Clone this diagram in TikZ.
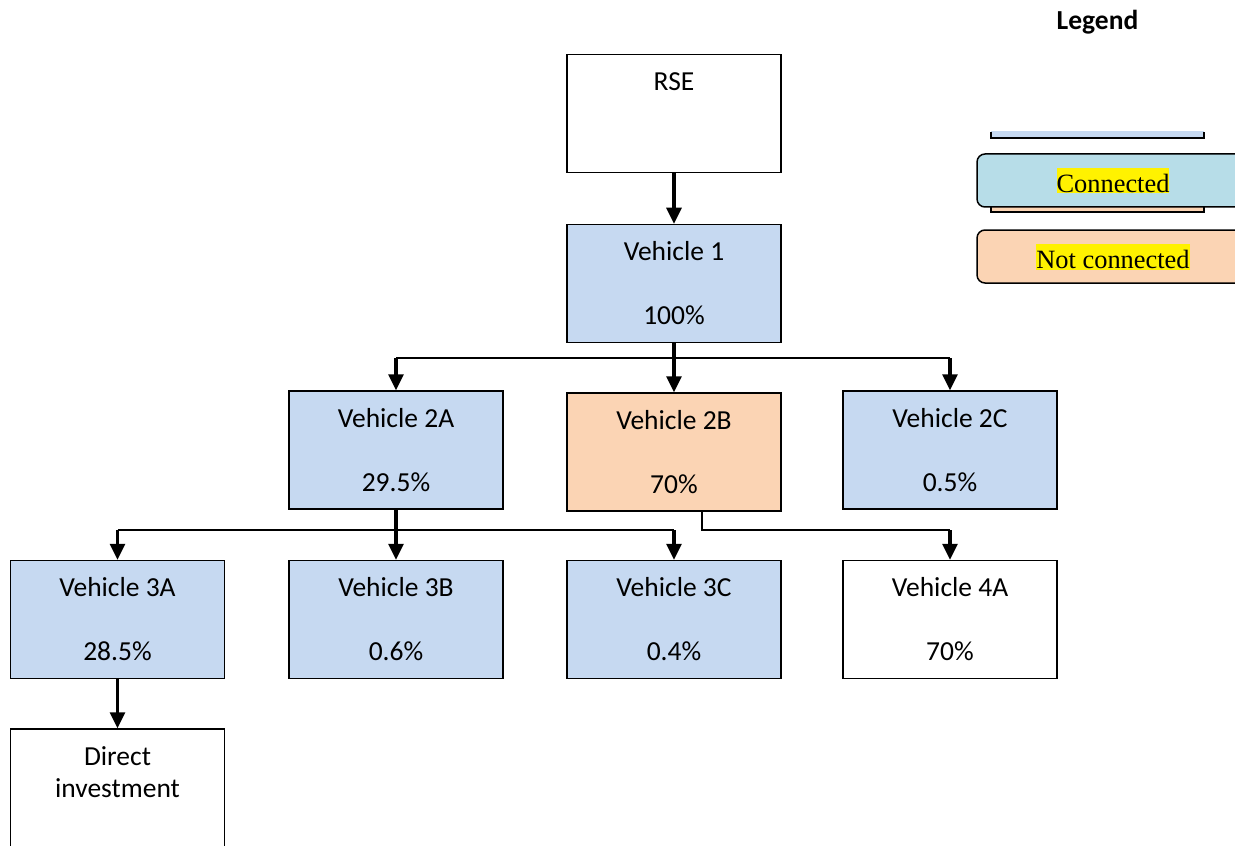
\documentclass[tikz,border=0pt]{standalone}
\usepackage{fontspec}
\setmainfont{Carlito}
\newfontfamily\legendfont{Liberation Serif}
\usetikzlibrary{calc}
\usetikzlibrary{arrows.meta}
\tikzset{>={Triangle[width=7.5pt,length=8pt]}}
\definecolor{vblue}{HTML}{C6D9F1}
\definecolor{vpeach}{HTML}{FBD4B4}
\definecolor{lblue}{HTML}{B7DDE8}
\setlength{\fboxsep}{0pt}
\newcommand{\hilite}[1]{\colorbox{yellow}{\rule[-0.6pt]{0pt}{13pt}#1}}

\tikzset{
	vbox/.style={draw, line width=0.75pt, minimum width=107pt, minimum height=59pt,
		inner sep=0pt, align=center, font=\fontsize{13.75}{16}\selectfont},
	arr/.style={->, line width=1.6pt},
	bus/.style={line width=0.75pt},
	key/.style={draw, line width=0.75pt, rounded corners=4pt, minimum width=136pt,
		minimum height=26.5pt, font=\legendfont\fontsize{13.2}{13}\selectfont}
}

\begin{document}
\begin{tikzpicture}[x=0.5pt, y=-0.5pt]
\clip (0,0) rectangle (1235,845);

\node (rse) at (674, 113.5) [vbox, fill=white] {RSE\\ ~\\ ~};
\node (v1) at (674, 283.5) [vbox, fill=vblue] {Vehicle 1\\ ~\\100\%};

\node (v2a) at (396, 450) [vbox, fill=vblue] {Vehicle 2A\\ ~\\29.5\%};
\node (v2b) at (674, 452) [vbox, fill=vpeach] {Vehicle 2B\\ ~\\70\%};
\node (v2c) at (950, 450) [vbox, fill=vblue] {Vehicle 2C\\ ~\\0.5\%};

\node (v3a) at (117.5, 619.5) [vbox, fill=vblue] {Vehicle 3A\\ ~\\28.5\%};
\node (v3b) at (396, 619.5) [vbox, fill=vblue] {Vehicle 3B\\ ~\\0.6\%};
\node (v3c) at (674, 619.5) [vbox, fill=vblue] {Vehicle 3C\\ ~\\0.4\%};
\node (v4a) at (950, 619.5) [vbox, fill=white] {Vehicle 4A\\ ~\\70\%};

\node (di) at (117.5, 788) [vbox, fill=white] {Direct\\investment\\ ~};

	\coordinate (bus1) at (674, 358);
	\coordinate (bus2) at (674, 530);

	\draw [arr] (rse.south) -- (v1.north);
	\draw [arr] (v1.south) -- (v2b.north);
	\draw [bus] (v2a.north |- bus1) -- (v2c.north |- bus1);
	\draw [arr] (v2a.north |- bus1) -- (v2a.north);
	\draw [arr] (v2c.north |- bus1) -- (v2c.north);

	\draw [arr] (v2a.south) -- (v3b.north);
	\draw [bus] (v3a.north |- bus2) -- (v3c.north |- bus2);
	\draw [arr] (v3a.north |- bus2) -- (v3a.north);
	\draw [arr] (v3c.north |- bus2) -- (v3c.north);
	\draw [bus] ($(v2b.south) + (28, 0)$) |- (v4a.north |- bus2);
	\draw [arr] (v4a.north |- bus2) -- (v4a.north);

	\draw [arr] (v3a.south) -- (di.north);

% legend
\node (legend) at (1097.5, 22) [font=\fontsize{13.75}{16}\selectfont\bfseries] {Legend};
	\fill [vblue] (991, 131) rectangle (1204, 138);
	\draw [bus] (991, 132) -- (991, 138) -- (1204, 138) -- (1204, 132);
	\draw [bus, fill=vpeach] (991, 195) rectangle (1204, 212);
\node (conn) at (1113, 180.5) [key, fill=lblue] {\hilite{Connected}};
\node (notconn) at (1113, 256.5) [key, fill=vpeach] {\hilite{Not connected}};
\end{tikzpicture}
\end{document}
